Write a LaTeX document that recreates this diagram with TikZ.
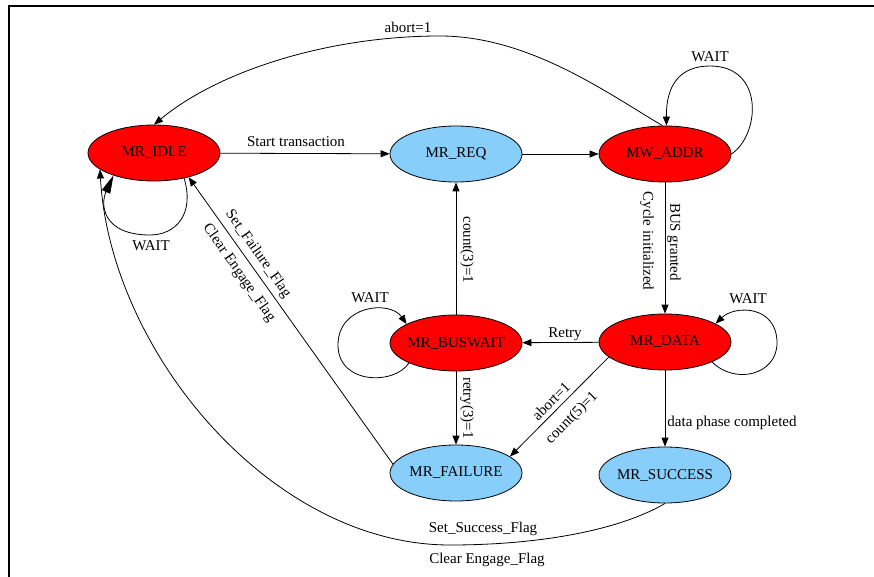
\documentclass[tikz,border=0pt]{standalone}
\usepackage{fontspec}
\setmainfont{Liberation Serif}
\usetikzlibrary{arrows.meta,shapes.geometric}
\definecolor{stred}{RGB}{255,0,0}
\definecolor{stblue}{RGB}{135,206,250}
\newcommand{\zw}[1]{\makebox[0pt]{#1}}
\begin{document}
\begin{tikzpicture}[x=1pt,y=-1pt,
  font=\fontsize{15}{18}\selectfont,
  st/.style={ellipse, draw=black, line width=0.8pt, minimum width=132pt, minimum height=56pt, inner sep=0pt},
  redst/.style={st, fill=stred},
  bluest/.style={st, fill=stblue},
  tr/.style={line width=0.8pt, -{Triangle[length=9pt,width=7pt]}},
  bigtr/.style={line width=0.8pt, -{Triangle[length=18pt,width=9pt]}},
  lab/.style={inner sep=0pt}]
\useasboundingbox (0,0) rectangle (874,577);
\draw[line width=1.5pt] (9,577) -- (9,6) -- (874,6);

% states
\node[redst]  (idle)    at (154,153) {\zw{MR\_IDLE}};
\node[bluest] (req)     at (456,154) {\zw{MR\_REQ}};
\node[redst]  (addr)    at (665,154) {\zw{MW\_ADDR}};
\node[redst]  (buswait) at (456,343) {\zw{MR\_BUSWAIT}};
\node[redst]  (data)    at (665,342) {\zw{MR\_DATA}};
\node[bluest] (failure) at (456,473) {\zw{MR\_FAILURE}};
\node[bluest] (success) at (665,475) {\zw{MR\_SUCCESS}};

% transitions
\draw[tr] (idle) -- (req);
\node[lab] (lStart) at (296,142) {Start transaction};

\draw[tr] (req) -- (addr);

\draw[tr] (addr.95) .. controls (610,95) and (530,36) .. (440,36)
          .. controls (330,36) and (220,70) .. (idle.north);
\node[lab] (lAbortTop) at (408,27) {abort=1};

\draw[tr] (addr.east) .. controls (760,135) and (765,66) .. (710,66)
          .. controls (680,66) and (666,85) .. (addr.87);
\node[lab] (lWaitAddr) at (710,57) {WAIT};

\draw[tr] (addr) -- (data);
\node[lab, rotate=-90] (lCycle) at (647,241) {Cycle initialized};
\node[lab, rotate=-90] (lBus) at (674,242) {BUS granted};

\draw[tr] (data.-23) .. controls (735,385) and (777,375) .. (777,343)
          .. controls (777,305) and (735,305) .. (data.20);
\node[lab] (lWaitData) at (748,299) {WAIT};

\draw[tr] (data) -- (buswait);
\node[lab] (lRetry) at (565,334) {Retry};

\draw[tr] (buswait) -- (req);
\node[lab, rotate=-90] (lCount3) at (467,250) {count(3)=1};

\draw[tr] (buswait.203) .. controls (395,385) and (338,385) .. (338,345)
          .. controls (338,305) and (390,300) .. (buswait.159);
\node[lab] (lWaitBus) at (370,298) {WAIT};

\draw[tr] (buswait) -- (failure);
\node[lab, rotate=-90] (lRetry3) at (467,408) {retry(3)=1};

\draw[tr] (data.195) -- (failure.17);
\node[lab, rotate=45] (lAbort) at (551,401) {abort=1};
\node[lab, rotate=45] (lCount5) at (572,418) {count(5)=1};

\draw[tr] (data) -- (success);
\node[lab] (lDone) at (732,423) {data phase completed};

\draw[tr] (failure.172) -- (idle.-35);
\node[lab, rotate=-55] (lSetFail) at (258,254) {Set\_Failure\_Flag};
\node[lab, rotate=-55] (lClrFail) at (239,273) {Clear Engage\_Flag};

\draw[bigtr] (idle.-40) .. controls (195,215) and (175,235) .. (150,235)
          .. controls (103,235) and (100,205) .. (idle.209);
\node[lab] (lWaitIdle) at (151,246) {WAIT};

\draw[tr] (success.south) .. controls (620,530) and (540,545) .. (450,545)
          .. controls (270,545) and (110,350) .. (idle.197);
\node[lab] (lSetSucc) at (483,529) {Set\_Success\_Flag};
\node[lab] (lClrSucc) at (487,560) {Clear Engage\_Flag};
\end{tikzpicture}
\end{document}
